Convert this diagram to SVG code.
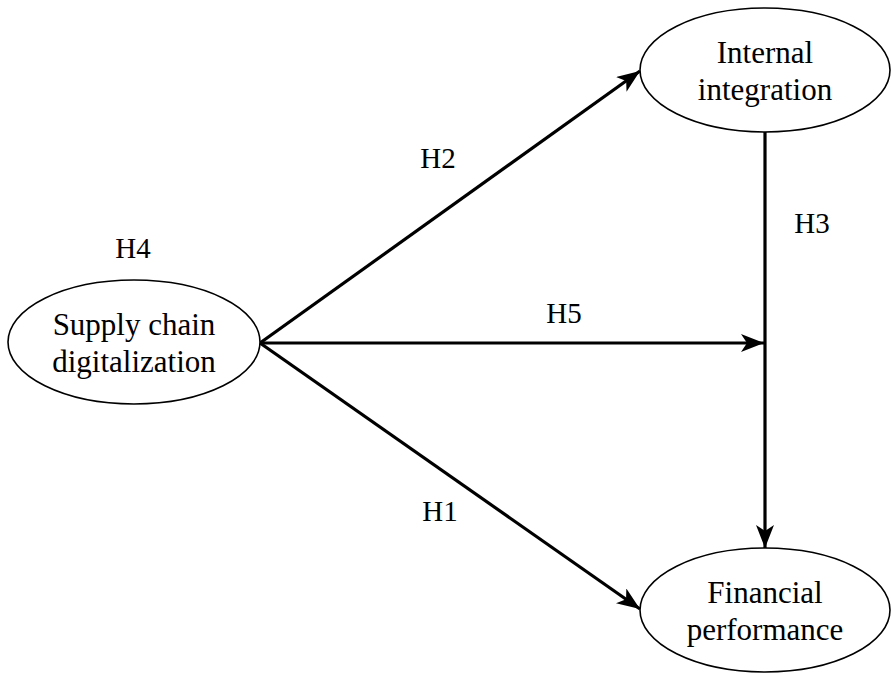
<svg xmlns="http://www.w3.org/2000/svg" width="891" height="674" viewBox="0 0 891 674">
<style>
.node ellipse{fill:#fff;stroke:#000;stroke-width:1.6}
text{font-family:"Liberation Serif","Times New Roman",serif;font-size:29px;fill:#000;text-anchor:middle}
.node text{font-size:31px}
.conn line{stroke:#000;stroke-width:3.2;fill:none}
</style>
<defs>
<marker id="ah" markerUnits="userSpaceOnUse" markerWidth="26" markerHeight="20" refX="23" refY="9" orient="auto">
<path d="M0,0 L23,9 L0,18 L6,9 Z" fill="#000"/>
</marker>
</defs>
<rect width="891" height="674" fill="#fff"/>
<g id="connectors" class="conn">
<line x1="260" y1="343" x2="640" y2="71" marker-end="url(#ah)"/>
<line x1="260" y1="343" x2="640" y2="609" marker-end="url(#ah)"/>
<line x1="260" y1="343" x2="764" y2="343" marker-end="url(#ah)"/>
<line x1="765" y1="132" x2="765" y2="548" marker-end="url(#ah)"/>
</g>
<g id="node-scd" class="node">
<ellipse cx="134" cy="342" rx="126" ry="62"/>
<text x="134" y="335">Supply chain</text>
<text x="134" y="372">digitalization</text>
</g>
<g id="node-ii" class="node">
<ellipse cx="765" cy="70" rx="125" ry="62"/>
<text x="765" y="63">Internal</text>
<text x="765" y="100">integration</text>
</g>
<g id="node-fp" class="node">
<ellipse cx="765" cy="610" rx="125" ry="62"/>
<text x="765" y="603">Financial</text>
<text x="765" y="640">performance</text>
</g>
<g id="labels">
<text x="133" y="258">H4</text>
<text x="438" y="168">H2</text>
<text x="564" y="323">H5</text>
<text x="812" y="233">H3</text>
<text x="440" y="521">H1</text>
</g>
</svg>
